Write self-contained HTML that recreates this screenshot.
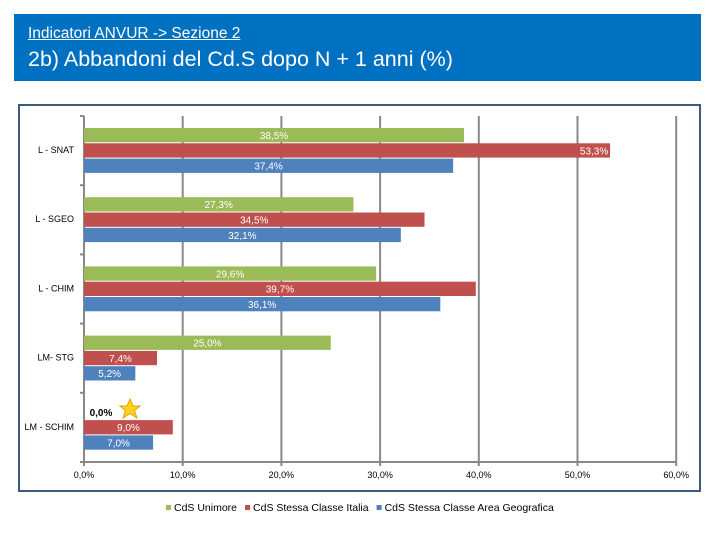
<!DOCTYPE html>
<html><head><meta charset="utf-8"><style>
body{margin:0;width:720px;height:540px;background:#fff;font-family:"Liberation Sans",sans-serif;overflow:hidden;position:relative}
#hdr{position:absolute;left:14px;top:14px;width:687px;height:67px;background:#0070C0;color:#fff}
#h1{position:absolute;left:14px;top:11px;font-size:15.5px;text-decoration:underline}
#h2{position:absolute;left:14px;top:33px;font-size:21.5px}
#frame{position:absolute;left:18px;top:104px;width:679px;height:384px;border:2px solid #3E5A7F}
svg{position:absolute;left:0;top:0}
</style></head><body>
<div id="hdr">
<div id="h1">Indicatori ANVUR -&gt; Sezione 2</div>
<div id="h2">2b) Abbandoni del Cd.S dopo N + 1 anni (%)</div>
</div>
<div id="frame"></div>
<svg id="chart" width="720" height="540"></svg>
<script>
const categories=["L - SNAT","L - SGEO","L - CHIM","LM- STG","LM - SCHIM"];
const unimore=[38.5,27.3,29.6,25.0,0.0];
const italia=[53.3,34.5,39.7,7.4,9.0];
const geo=[37.4,32.1,36.1,5.2,7.0];
const ticks=[0,10,20,30,40,50,60];
const tickLabels=["0,0%","10,0%","20,0%","30,0%","40,0%","50,0%","60,0%"];
const seriesNames=["CdS Unimore","CdS Stessa Classe Italia","CdS Stessa Classe Area Geografica"];
const colors=["#9BBB59","#C0504D","#4F81BD"];
const svg=document.getElementById('chart');const NS="http://www.w3.org/2000/svg";
const x0=84,pxPer=9.87,plotTop=116,plotBottom=462;
const band=(plotBottom-plotTop)/categories.length;
const X=v=>x0+v*pxPer;
function mk(t,a){const e=document.createElementNS(NS,t);for(const k in a)e.setAttribute(k,a[k]);svg.appendChild(e);return e;}
ticks.forEach((t,i)=>{
 const g=mk('line',{x1:X(t),x2:X(t),y1:plotTop,y2:plotBottom+4,stroke:'#888','stroke-width':2});
 
 
 const l=mk('text',{x:X(t),y:478,'text-anchor':'middle','font-size':9,fill:'#000'});
 l.textContent=tickLabels[i];
 
 
});
const ax=mk('line',{x1:X(0),x2:X(60),y1:plotBottom,y2:plotBottom,stroke:'#888','stroke-width':2});


for(let i=0;i<=categories.length;i++){const tk=mk('line',{x1:X(0)-4,x2:X(0),y1:plotTop+i*band,y2:plotTop+i*band,stroke:'#888','stroke-width':2});
 
 }
const series=[unimore,italia,geo];
categories.forEach((c,i)=>{
 const by=plotTop+i*band+12;
 const cl=mk('text',{x:74,y:by+25,'text-anchor':'end','font-size':9,fill:'#000'});
 cl.textContent=c;
 
 
 series.forEach((s,j)=>{
  const y=by+j*15.3;
  const r=mk('rect',{x:X(0),y:y,width:Math.max(0,X(s[i])-X(0)),height:14.3,fill:colors[j]});
  
  
  const lbl=s[i].toFixed(1).replace('.',',')+'%';
  const zero=s[i]===0;
  let lx=(X(0)+X(s[i]))/2;
  if(j===1&&s[i]>50)lx=X(s[i])-16;
  if(zero)lx=X(0)+17;
  const t=mk('text',{x:lx,y:y+11,'text-anchor':'middle','font-size':10,fill:zero?'#000':'#fff','font-weight':zero?'bold':'normal'});
  t.textContent=lbl;
  
  
 });
});
const st=mk('polygon',{points:"130,399 133,406 140,406 134.5,410.5 137,418 130,413.5 123,418 125.5,410.5 120,406 127,406",fill:'#FFD21F',stroke:'#E3A200','stroke-width':1});


let lgx=166;
seriesNames.forEach((n,j)=>{
 const sq=mk('rect',{x:lgx,y:505,width:5,height:5,fill:colors[j]});
 
 
 const t=mk('text',{x:lgx+8,y:511,'font-size':10.5,fill:'#000'});
 t.textContent=n;
 
 
 lgx+=8+t.getComputedTextLength()+8;
});
</script>
</body></html>
